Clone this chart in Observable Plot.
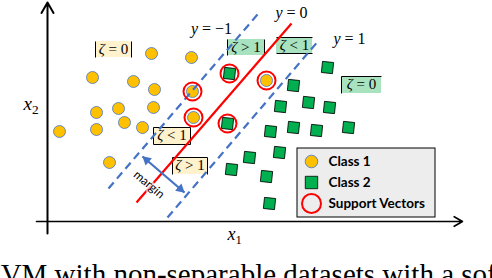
<!DOCTYPE html>
<html><head><meta charset="utf-8">
<script src="https://cdn.jsdelivr.net/npm/d3@7"></script>
<script src="https://cdn.jsdelivr.net/npm/@observablehq/plot@0.6"></script>
<style>html,body{margin:0;padding:0;overflow:hidden;background:#fff}</style>
</head><body><div id="chart"></div>
<script>
// ---- data (feature space: x1 horizontal, x2 vertical, origin at the axes' corner) ----
const class1X = [104,144,45,86,107,145,49,71,106,146,12,49,77,95,62,219];
const class1Y = [168,164,144,140,132,130,109,113,114,104,90,92,99,94,59,141];
const class2X = [280,246,233,261,282,223,246,269,301,202,232,184,219,222,182,180];
const class2Y = [154,136,115,119,114,90,94,91,94,64,69,52,45,18,148,98];
const supportX = [145,146,182,180,219];
const supportY = [130,104,148,98,141];

// hyperplanes y = -1, 0, 1
const planeLabels = ["y = \u22121", "y = 0", "y = 1"];
const planeX1 = [61, 89, 120];
const planeY1 = [33, 19, 4];
const planeX2 = [210, 244, 272];
const planeY2 = [207, 198, 182];
const planeLabelX = [164, 244, 302];
const planeLabelY = [193, 209, 183];

// slack annotations
const zetaLabels = ["\u03b6 = 0", "\u03b6 > 1", "\u03b6 < 1", "\u03b6 = 0", "\u03b6 < 1", "\u03b6 > 1"];
const zetaClass = [1, 2, 2, 2, 1, 1];
const zetaX1 = [48, 180, 229, 294, 106, 125];
const zetaX2 = [84, 217, 265, 334, 143, 160];
const zetaY1 = [164, 166, 168, 128, 77, 47];
const zetaY2 = [180, 182, 184, 145, 94, 64];
const zetaEdges = ["lr", "lr", "tb", "lt", "lrtb", "lrt"];

// margin arrow
const marginArrow = {x1: 95, y1: 65, x2: 137, y2: 29, labelX: 101.5, labelY: 37, label: "margin"};

// legend
const legendLabels = ["Class 1", "Class 2", "Support Vectors"];
const legendBox = {x1: 250, x2: 388, y1: 4, y2: 73};
const legendSymbolX = 264, legendTextX = 281;
const legendY = [60, 39, 18];

const caption = "SVM with non-separable datasets with a soft margin";

// ---- derived tables ----
const class1 = class1X.map((x, i) => ({x, y: class1Y[i]}));
const class2 = class2X.map((x, i) => ({x, y: class2Y[i]}));
const support = supportX.map((x, i) => ({x, y: supportY[i]}));
const planes = planeLabels.map((label, i) => ({label, x1: planeX1[i], y1: planeY1[i], x2: planeX2[i], y2: planeY2[i], lx: planeLabelX[i], ly: planeLabelY[i]}));
const boundary = planes.filter(d => d.label === "y = 0");
const marginPlanes = planes.filter(d => d.label !== "y = 0");
const zetas = zetaLabels.map((label, i) => ({label, cls: zetaClass[i], x1: zetaX1[i], x2: zetaX2[i], y1: zetaY1[i], y2: zetaY2[i], edges: zetaEdges[i]}));
const edges = [];
zetas.forEach(z => {
  if (z.edges.includes("l")) edges.push({x1: z.x1, x2: z.x1, y1: z.y1, y2: z.y2});
  if (z.edges.includes("r")) edges.push({x1: z.x2, x2: z.x2, y1: z.y1, y2: z.y2});
  if (z.edges.includes("t")) edges.push({x1: z.x1, x2: z.x2, y1: z.y2, y2: z.y2});
  if (z.edges.includes("b")) edges.push({x1: z.x1, x2: z.x2, y1: z.y1, y2: z.y1});
});
const a = marginArrow;
const len = Math.hypot(a.x2 - a.x1, a.y2 - a.y1);
const ux = (a.x2 - a.x1) / len, uy = (a.y2 - a.y1) / len;
const ang = Math.atan2(a.x2 - a.x1, a.y2 - a.y1) * 180 / Math.PI; // clockwise from up (screen)
const heads = [
  {x: a.x2 - ux * 5.4, y: a.y2 - uy * 5.4, r: ang},
  {x: a.x1 + ux * 5.4, y: a.y1 + uy * 5.4, r: ang + 180}
];

const YELLOW = "#FFF2CC", GREEN = "#A9E2BF", ORANGE = "#FFC000", SQ = "#00B050", BLUE = "#4472C4", RED = "#FF0000";
const serif = "'Liberation Serif', 'Times New Roman', serif";
const sans = "Lato, 'Open Sans', sans-serif";

const chart = Plot.plot({
  width: 492, height: 278, margin: 0,
  x: {domain: [-47, 445], range: [0, 492], axis: null},
  y: {domain: [-57, 221], range: [278, 0], axis: null},
  style: {background: "white", overflow: "visible"},
  marks: [
    // slack boxes
    Plot.rect(zetas, {x1: "x1", x2: "x2", y1: "y1", y2: "y2", fill: d => d.cls === 1 ? YELLOW : GREEN}),
    Plot.link(edges, {x1: "x1", y1: "y1", x2: "x2", y2: "y2", stroke: "black", strokeWidth: 1}),
    Plot.text(zetas, {x: d => (d.x1 + d.x2) / 2, y: d => (d.y1 + d.y2) / 2 + 0.5, text: "label", fontSize: 15, fontFamily: serif, fill: "black", className: "math"}),
    // axes
    Plot.arrow([{x1: 0, y1: -12, x2: 0, y2: 219}], {x1: "x1", y1: "y1", x2: "x2", y2: "y2", stroke: "black", strokeWidth: 2, headLength: 9}),
    Plot.arrow([{x1: -11, y1: 0, x2: 415, y2: 0}], {x1: "x1", y1: "y1", x2: "x2", y2: "y2", stroke: "black", strokeWidth: 1.6, headLength: 9}),
    Plot.text(["x2"], {x: -24, y: 117.5, text: d => d, textAnchor: "start", fontSize: 19, fontFamily: serif, className: "sub"}),
    Plot.text(["x1"], {x: 180, y: -12.8, text: d => d, textAnchor: "start", fontSize: 18, fontFamily: serif, className: "sub"}),
    // points
    Plot.dot(class1, {x: "x", y: "y", r: 6, fill: ORANGE, stroke: BLUE, strokeWidth: 0.8}),
    Plot.dot(class2, {x: "x", y: "y", r: 6.3, symbol: "square", fill: SQ, stroke: "black", strokeWidth: 0.8, rotate: 6}),
    // hyperplanes
    Plot.link(marginPlanes, {x1: "x1", y1: "y1", x2: "x2", y2: "y2", stroke: BLUE, strokeWidth: 2.2, strokeDasharray: "8,5"}),
    Plot.link(boundary, {x1: "x1", y1: "y1", x2: "x2", y2: "y2", stroke: RED, strokeWidth: 2.2}),
    Plot.text(planes, {x: "lx", y: "ly", text: "label", fontSize: 16, fontFamily: serif, fill: "black", className: "math"}),
    // support vectors
    Plot.dot(support, {x: "x", y: "y", r: 9, stroke: RED, strokeWidth: 2, fill: "none"}),
    // margin arrow
    Plot.link([a], {x1: "x1", y1: "y1", x2: "x2", y2: "y2", stroke: BLUE, strokeWidth: 2.2}),
    Plot.dot(heads, {x: "x", y: "y", r: 3.6, symbol: "triangle", fill: BLUE, rotate: "r"}),
    Plot.text([a], {x: "labelX", y: "labelY", text: "label", rotate: 40, fontSize: 12, fontFamily: sans, fill: "black", stroke: "white", strokeOpacity: 0.6, strokeWidth: 4}),
    // legend
    Plot.rect([legendBox], {x1: "x1", x2: "x2", y1: "y1", y2: "y2", fill: "#EDEDED", stroke: "black", strokeWidth: 1}),
    Plot.dot([legendY[0]], {x: legendSymbolX, y: d => d, r: 6.3, fill: ORANGE, stroke: BLUE, strokeWidth: 0.8}),
    Plot.dot([legendY[1]], {x: legendSymbolX, y: d => d, r: 7, symbol: "square", fill: SQ, stroke: "black", strokeWidth: 0.8}),
    Plot.dot([legendY[2]], {x: legendSymbolX, y: d => d, r: 9.5, stroke: RED, strokeWidth: 2, fill: "none"}),
    Plot.text(legendLabels, {x: legendTextX, y: (d, i) => legendY[i], text: d => d, textAnchor: "start", fontSize: 13.5, fontWeight: "bold", fontFamily: sans, fill: "black"}),
    // caption (cut by the frame, as in the reference)
    Plot.text([caption], {x: -63, y: -53.7, text: d => d, textAnchor: "start", fontSize: 29, fontFamily: serif, fill: "black"})
  ]
});

// italic variable in each math label
d3.select(chart).selectAll("g.math text").each(function () {
  const t = this.textContent, s = d3.select(this);
  s.text("");
  s.append("tspan").attr("font-style", "italic").text(t[0]);
  s.append("tspan").text(t.slice(1));
});
d3.select(chart).selectAll("g.sub text").each(function () {
  const t = this.textContent, s = d3.select(this);
  s.text("");
  s.append("tspan").attr("font-style", "italic").text(t[0]);
  s.append("tspan").attr("font-size", "70%").attr("dy", "0.3em").text(t.slice(1));
});
document.getElementById("chart").appendChild(chart);
</script>
</body></html>
